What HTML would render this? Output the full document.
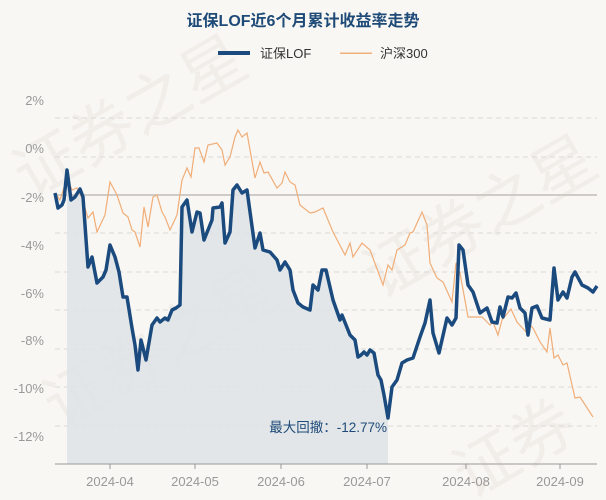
<!DOCTYPE html>
<html><head><meta charset="utf-8"><style>
html,body{margin:0;padding:0;background:#f9f7f3;}
svg{display:block;font-family:"Liberation Sans","Noto Sans CJK SC",sans-serif;}
</style></head><body>
<svg width="606" height="500" viewBox="0 0 606 500" xmlns="http://www.w3.org/2000/svg">
<rect width="606" height="500" fill="#f9f7f3"/>
<g fill="#ebe8e3" font-size="64" opacity="0.6">
<text x="30" y="200" transform="rotate(-30 30 200)">证券之星</text>
<text x="60" y="430" transform="rotate(-30 60 430)">证券之星</text>
<text x="380" y="300" transform="rotate(-30 380 300)">证券之星</text>
<text x="470" y="500" transform="rotate(-30 470 500)">证券</text>
</g>
<text x="303" y="26" text-anchor="middle" font-size="16" font-weight="bold" fill="#1e4a78">证保LOF近6个月累计收益率走势</text>
<rect x="218" y="51" width="32" height="4" fill="#1b4b7e"/>
<text x="260" y="58" font-size="13" fill="#333">证保LOF</text>
<rect x="340" y="52.5" width="32" height="1.5" fill="#f0b07a"/>
<text x="380" y="58" font-size="13" fill="#333">沪深300</text>
<g stroke="#dcdad6" stroke-width="1" stroke-dasharray="5,4">
<line x1="55" x2="597" y1="118" y2="118"/><line x1="55" x2="597" y1="157" y2="157"/>
<line x1="55" x2="597" y1="233" y2="233"/><line x1="55" x2="597" y1="272" y2="272"/>
<line x1="55" x2="597" y1="310" y2="310"/><line x1="55" x2="597" y1="349" y2="349"/>
<line x1="55" x2="597" y1="387" y2="387"/><line x1="55" x2="597" y1="426" y2="426"/>
</g>
<line x1="55" x2="597" y1="195" y2="195" stroke="#cfccc8" stroke-width="2"/>
<g font-size="13" fill="#999" text-anchor="end">
<text x="44" y="105">2%</text><text x="44" y="153">0%</text><text x="44" y="202">-2%</text>
<text x="44" y="250">-4%</text><text x="44" y="298">-6%</text><text x="44" y="345">-8%</text>
<text x="44" y="393">-10%</text><text x="44" y="441">-12%</text>
</g>
<polygon fill="#dfe3e7" opacity="0.9" points="67,464 67,170 71,200 75,197 80,189 83,197 88,267 92,257 97,283 103,277 106,270 110,245 115,257 119,272 123,297 127,297 132,328 135,345 140,370 143,340 147,360 152,325 157,318 160,322 165,318 168,320 172,310 176,308 180,305 182,207 187,200 192,232 197,212 200,213 204,240 212,220 213,208 220,207 222,203 225,243 230,232 233,190 237,185 242,193 247,190 255,248 260,233 263,250 270,252 277,260 280,270 285,262 290,270 293,290 298,303 303,307 310,310 313,285 318,290 322,270 326,270 333,300 340,320 342,315 346,325 350,335 355,340 358,357 361,355 364,352 367,355 370,350 374,353 378,375 381,380 384,395 388,418 388,464"/>
<polyline fill="none" stroke="#f0ad78" stroke-width="1.2" points="55,193 60,200 67,178 72,190 77,188 82,198 88,218 93,212 97,232 105,215 110,182 117,195 123,213 128,217 132,230 135,232 140,247 144,207 148,227 153,197 157,195 162,212 165,217 170,230 177,215 182,180 187,168 191,177 195,148 199,148 204,162 208,145 217,143 222,150 225,165 230,157 235,137 238,130 242,137 247,133 255,178 260,162 264,173 268,172 277,188 282,183 285,172 290,182 295,185 300,205 310,213 315,212 323,208 333,232 345,255 350,243 353,257 362,243 370,250 383,285 388,265 392,270 397,250 405,245 410,233 413,232 422,212 427,225 430,263 437,278 443,282 452,302 456,263 460,273 468,317 482,317 490,325 493,322 498,335 502,320 511,309 517,322 527,333 530,325 533,328 540,342 547,352 550,328 554,358 558,355 563,365 567,363 575,398 580,397 593,417"/>
<polyline fill="none" stroke="#1b4b7e" stroke-width="3.5" stroke-linejoin="round" points="55,193 58,208 62,205 64,200 67,170 71,200 75,197 80,189 83,197 88,267 92,257 97,283 103,277 106,270 110,245 115,257 119,272 123,297 127,297 132,328 135,345 138,370 141,340 146,360 152,325 157,318 160,322 165,318 168,320 172,310 176,308 180,305 182,207 187,200 192,232 197,212 200,213 204,240 212,220 213,208 220,207 222,203 225,243 230,232 233,190 237,185 242,193 247,190 255,248 260,233 263,250 270,252 277,260 280,270 285,262 290,270 293,290 298,303 303,307 310,310 313,285 318,290 322,270 326,270 333,300 340,320 342,315 346,325 350,335 355,340 358,357 361,355 364,352 367,355 370,350 374,353 378,375 381,380 384,395 388,418 392,387 397,380 402,363 407,360 413,358 420,337 425,323 430,300 433,333 439,353 447,318 452,325 456,318 459,245 463,250 468,285 473,292 480,313 487,308 492,322 497,323 500,307 503,317 508,297 512,298 516,293 520,308 525,313 528,335 532,308 537,306 542,318 550,320 554,268 558,300 563,292 567,298 572,277 575,272 582,285 588,288 593,292 597,286"/>
<text x="387" y="432" text-anchor="end" font-size="13.5" fill="#1e4a78">最大回撤：-12.77%</text>
<line x1="55" x2="597" y1="464" y2="464" stroke="#999" stroke-width="1"/>
<g stroke="#999"><line x1="110" x2="110" y1="464" y2="469"/><line x1="195" x2="195" y1="464" y2="469"/><line x1="281" x2="281" y1="464" y2="469"/><line x1="367" x2="367" y1="464" y2="469"/><line x1="466" x2="466" y1="464" y2="469"/><line x1="560" x2="560" y1="464" y2="469"/></g>
<g font-size="13" fill="#999" text-anchor="middle">
<text x="110" y="486">2024-04</text><text x="195" y="486">2024-05</text><text x="281" y="486">2024-06</text>
<text x="367" y="486">2024-07</text><text x="466" y="486">2024-08</text><text x="560" y="486">2024-09</text>
</g>
</svg>
</body></html>
